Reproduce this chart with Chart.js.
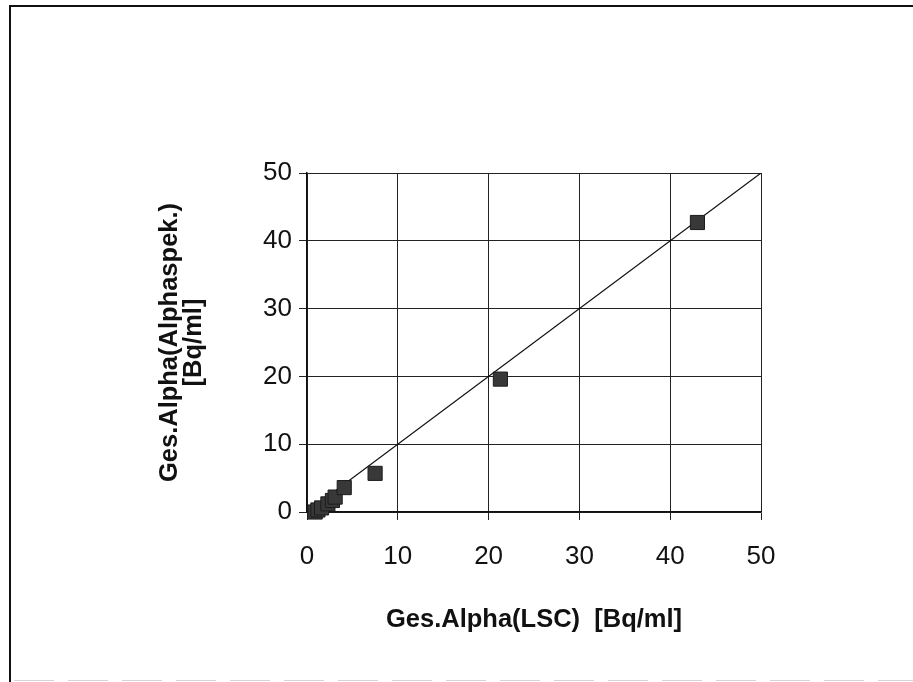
<!DOCTYPE html>
<html>
<head>
<meta charset="utf-8">
<script src="https://cdn.jsdelivr.net/npm/chart.js@4"></script>
<style>
  html, body { margin: 0; padding: 0; background: #fff; }
  #wrap { position: relative; width: 913px; height: 682px; }
</style>
</head>
<body>
<div id="wrap"><canvas id="alphaChart"></canvas></div>
<script>
// Messwerte: LSC gegen Alphaspektrometrie (Bq/ml)
const lscValues = [0.9, 1.2, 1.6, 2.3, 2.8, 3.1, 4.1, 7.5, 21.3, 43.0];
const alphaspekValues = [0.0, 0.3, 0.6, 1.2, 1.7, 2.2, 3.6, 5.7, 19.6, 42.7];
// Diagonale y = x
const diagonalX = [0, 50];
const diagonalY = [0, 50];
const axisMin = 0;
const axisMax = 50;
const axisStep = 10;

const points = lscValues.map((x, i) => ({ x: x, y: alphaspekValues[i] }));
const diagonal = diagonalX.map((x, i) => ({ x: x, y: diagonalY[i] }));

// Rahmen um die Grafik (links, oben, unten gestrichelt)
const framePlugin = {
  id: 'frame',
  beforeDraw(chart) {
    const c = chart.ctx;
    c.save();
    c.fillStyle = '#fff';
    c.fillRect(0, 0, chart.width, chart.height);
    c.strokeStyle = '#111';
    c.lineWidth = 2;
    c.beginPath();
    c.moveTo(10, chart.height);
    c.lineTo(10, 6);
    c.lineTo(chart.width, 6);
    c.stroke();
    c.strokeStyle = '#d4d4d4';
    c.lineWidth = 1;
    c.setLineDash([40, 14]);
    c.beginPath();
    c.moveTo(14, chart.height - 1.5);
    c.lineTo(chart.width, chart.height - 1.5);
    c.stroke();
    c.restore();
  }
};

const tickFont = { family: 'Arial, "Liberation Sans", sans-serif', size: 26 };
const titleFont = { family: 'Arial, "Liberation Sans", sans-serif', size: 25.5, weight: 'bold', lineHeight: 0.92 };

const ctx = document.getElementById('alphaChart').getContext('2d');
const alphaChart = new Chart(ctx, {
  type: 'scatter',
  data: {
    datasets: [
      {
        label: 'Messwerte',
        data: points,
        pointStyle: 'rect',
        pointRadius: 10,
        pointHoverRadius: 10,
        backgroundColor: '#383838',
        borderColor: '#1c1c1c',
        borderWidth: 1,
        clip: false,
        order: 1
      },
      {
        label: 'y = x',
        data: diagonal,
        showLine: true,
        pointRadius: 0,
        borderColor: '#111',
        borderWidth: 1.2,
        order: 2
      }
    ]
  },
  options: {
    responsive: true,
    maintainAspectRatio: false,
    animation: false,
    layout: { padding: { left: 150, top: 173, right: 152, bottom: 40 } },
    plugins: {
      legend: { display: false },
      tooltip: { enabled: false }
    },
    scales: {
      x: {
        type: 'linear',
        min: axisMin,
        max: axisMax,
        afterFit: (scale) => { scale.height = 130; },
        grid: { color: '#222', lineWidth: 1, tickLength: 8, drawTicks: true },
        border: { color: '#111', width: 1.5 },
        ticks: { stepSize: axisStep, autoSkip: false, maxRotation: 0, padding: 21, color: '#111', font: tickFont },
        title: {
          display: true,
          text: 'Ges.Alpha(LSC)  [Bq/ml]',
          color: '#111',
          font: titleFont,
          padding: { top: 0, bottom: 10 }
        }
      },
      y: {
        type: 'linear',
        min: axisMin,
        max: axisMax,
        afterFit: (scale) => { scale.width = 157; },
        grid: { color: '#222', lineWidth: 1, tickLength: 8, drawTicks: true },
        border: { color: '#111', width: 1.5 },
        ticks: { stepSize: axisStep, autoSkip: false, padding: 7, color: '#111', font: tickFont },
        title: {
          display: true,
          text: ['Ges.Alpha(Alphaspek.)', '[Bq/ml]'],
          color: '#111',
          font: titleFont,
          padding: { top: 8.5, bottom: 0 }
        }
      }
    }
  },
  plugins: [framePlugin]
});
</script>
</body>
</html>
